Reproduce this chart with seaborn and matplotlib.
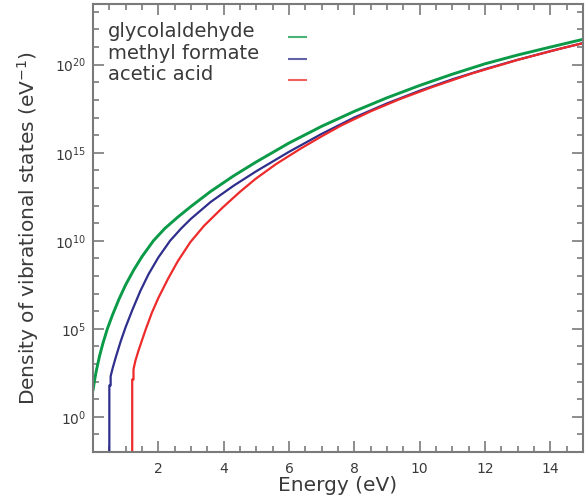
import numpy as np
import pandas as pd
import matplotlib
matplotlib.use("Agg")
import matplotlib.pyplot as plt
import matplotlib.ticker as mticker
import seaborn as sns

# log10 of density of vibrational states (eV^-1)
glyco_e = [0.0, 0.05, 0.1, 0.2, 0.3, 0.44, 0.6, 0.8, 1.0, 1.25, 1.5, 1.85, 2.2,
           2.6, 3.0, 3.6, 4.3, 5.0, 6.0, 7.0, 8.0, 9.0, 10.0, 11.0, 12.0, 13.0,
           14.0, 15.0]
glyco_log = [1.5, 2.1, 2.6, 3.45, 4.15, 5.0, 5.8, 6.7, 7.5, 8.35, 9.1, 10.0, 10.7,
             11.35, 11.95, 12.8, 13.68, 14.48, 15.55, 16.5, 17.35, 18.12, 18.82,
             19.46, 20.05, 20.55, 21.0, 21.44]

mf_e = [0.5, 0.5, 0.54, 0.54, 0.6, 0.7, 0.85, 1.0, 1.2, 1.45, 1.7, 2.0, 2.36,
        2.7, 3.0, 3.6, 4.3, 5.0, 6.0, 7.0, 8.0, 9.0, 10.0, 11.0, 12.0, 13.0,
        14.0, 15.0]
mf_log = [-5, 1.78, 1.78, 2.3, 2.75, 3.4, 4.3, 5.1, 6.05, 7.15, 8.1, 9.05, 10.0,
          10.7, 11.25, 12.2, 13.12, 13.95, 15.05, 16.07, 17.0, 17.8, 18.52,
          19.17, 19.75, 20.28, 20.77, 21.23]

aa_e = [1.2, 1.2, 1.24, 1.24, 1.3, 1.4, 1.5, 1.63, 1.8, 2.0, 2.3, 2.6, 2.98,
        3.4, 3.96, 4.5, 4.98, 5.6, 6.37, 7.0, 7.6, 8.5, 9.4, 10.37, 11.6, 13.0,
        14.37, 15.0]
aa_log = [-5, 2.12, 2.12, 2.7, 3.2, 3.8, 4.35, 5.05, 5.9, 6.75, 7.85, 8.85, 9.92,
          10.85, 11.87, 12.78, 13.52, 14.35, 15.25, 15.93, 16.55, 17.35, 18.05,
          18.72, 19.5, 20.27, 20.94, 21.22]

names = ["glycolaldehyde", "methyl formate", "acetic acid"]
colors = {"glycolaldehyde": "#0a9a48", "methyl formate": "#2e2e8c",
          "acetic acid": "#ee2a2a"}
widths = {"glycolaldehyde": 2.1, "methyl formate": 1.6, "acetic acid": 1.6}

frames = []
for name, e, lg in zip(names, [glyco_e, mf_e, aa_e], [glyco_log, mf_log, aa_log]):
    frames.append(pd.DataFrame({"energy": e, "dos": 10.0 ** np.array(lg),
                                "molecule": name}))
df = pd.concat(frames, ignore_index=True)

sns.set_style("ticks")
plt.rcParams["font.family"] = ["DejaVu Sans"]
txt = "#3a3a3a"
axc = "#7a7a7a"

fig = plt.figure(figsize=(5.87, 5.01), dpi=100)
ax = fig.add_axes([93 / 587, 1 - 452 / 501, 490 / 587, 448 / 501])

for name in names:
    sns.lineplot(data=df[df["molecule"] == name], x="energy", y="dos",
                 color=colors[name], lw=widths[name], sort=False,
                 estimator=None, legend=False, ax=ax)

ax.set_yscale("log")
ax.set_xlim(0, 15)
ax.set_ylim(1e-2, 2.8e23)

ax.xaxis.set_major_locator(mticker.FixedLocator([2, 4, 6, 8, 10, 12, 14]))
ax.xaxis.set_minor_locator(mticker.MultipleLocator(0.5))
ax.yaxis.set_major_locator(mticker.FixedLocator([1e0, 1e5, 1e10, 1e15, 1e20]))
ax.yaxis.set_minor_locator(mticker.FixedLocator([10.0 ** k for k in range(-2, 24)]))
ax.yaxis.set_major_formatter(mticker.FuncFormatter(
    lambda v, p: r"$10^{%d}$" % round(np.log10(v))))
ax.yaxis.set_minor_formatter(mticker.NullFormatter())

ax.tick_params(which="both", direction="in", top=True, right=True,
               colors=axc, labelcolor=txt, labelsize=10)
ax.tick_params(which="major", length=8, width=1.2)
ax.tick_params(which="minor", length=4.5, width=1.2)
ax.tick_params(axis="x", pad=7)
ax.tick_params(axis="y", pad=5)
for s in ax.spines.values():
    s.set_color(axc)
    s.set_linewidth(1.5)

ax.set_xlabel("Energy (eV)", fontsize=14.5, color=txt, labelpad=0)
ax.set_ylabel(r"Density of vibrational states (eV$^{-1}$)", fontsize=14.5,
              color=txt, labelpad=10)

# IDL-style legend: labels on the left, line keys in a column to the right
label_y = [0.926, 0.878, 0.830]
for name, ly in zip(names, label_y):
    ax.text(0.031, ly, name, transform=ax.transAxes, fontsize=14, color=txt,
            va="baseline", ha="left")
    ax.plot([0.398, 0.437], [ly, ly], transform=ax.transAxes,
            color=colors[name], lw=1.5, alpha=0.75, solid_capstyle="butt")

fig.savefig("out.png", dpi=100)
